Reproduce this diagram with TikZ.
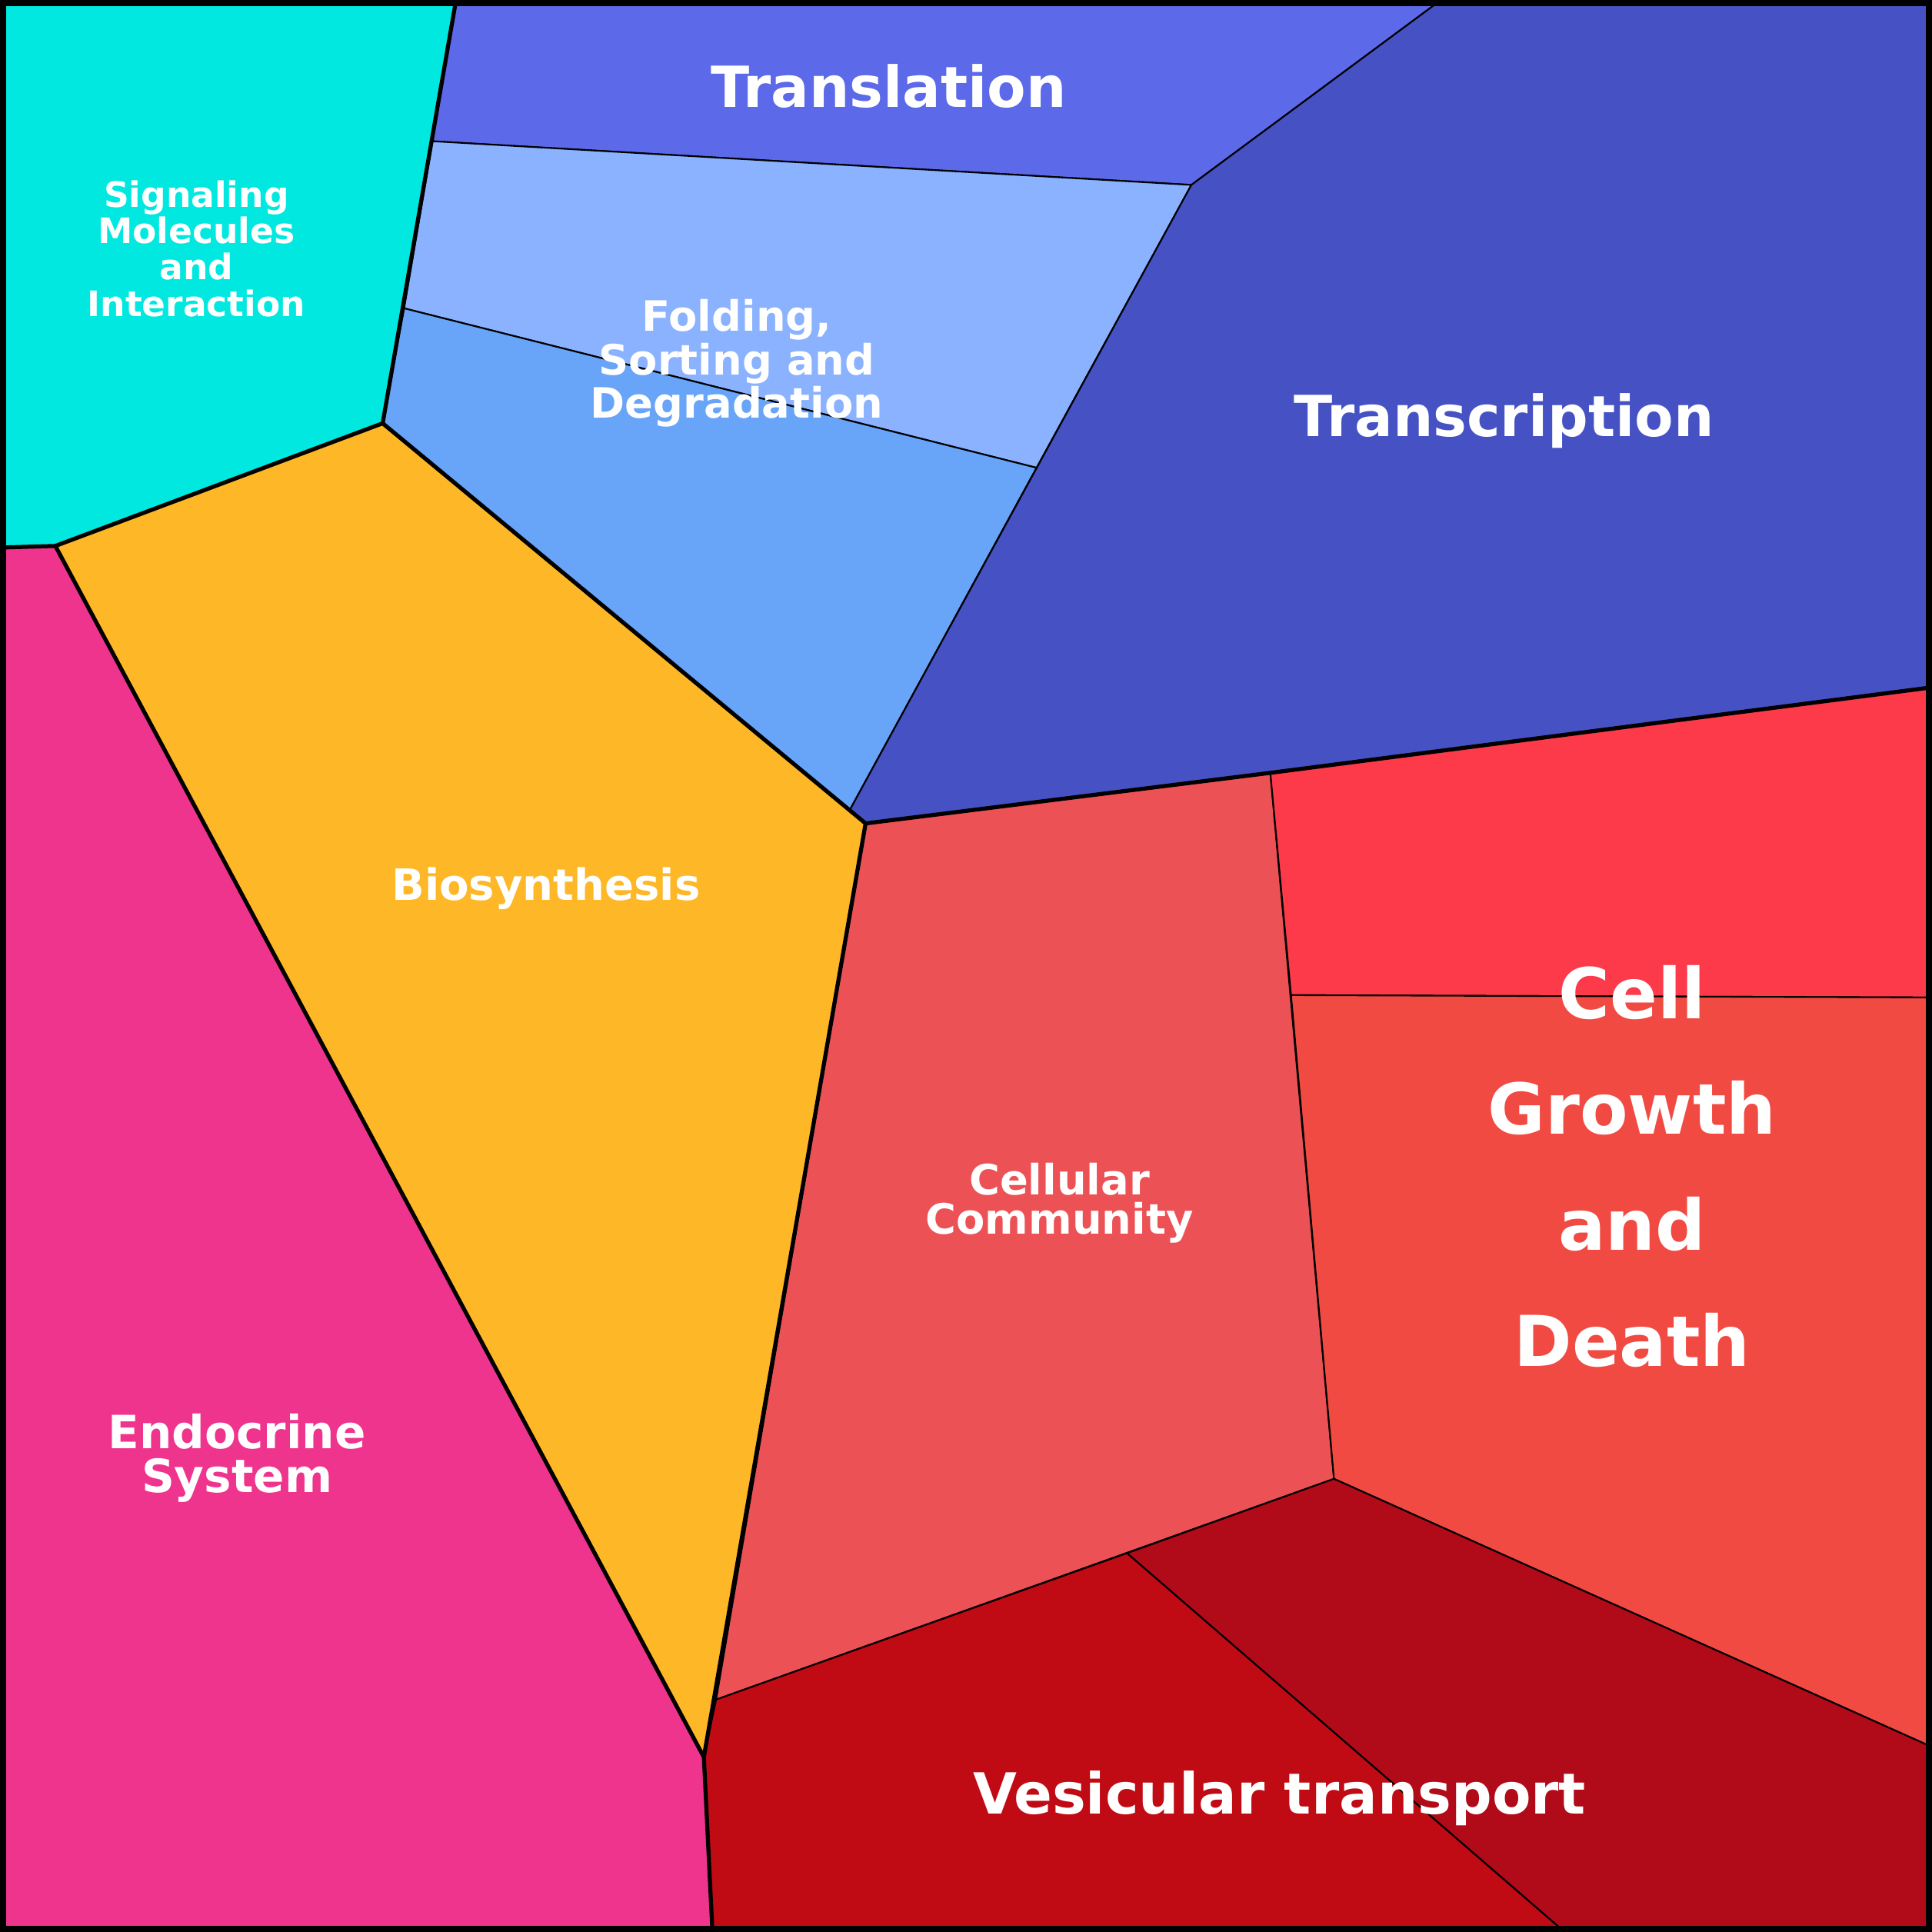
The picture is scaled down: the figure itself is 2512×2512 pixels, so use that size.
\documentclass[tikz,border=0pt]{standalone}
\usepackage{fontspec}
\setmainfont{DejaVu Sans}
\definecolor{cSignal}{HTML}{00E8E0}
\definecolor{cTransl}{HTML}{5C69E8}
\definecolor{cFoldA}{HTML}{8AB2FF}
\definecolor{cFoldB}{HTML}{68A4F8}
\definecolor{cTranscr}{HTML}{4652C4}
\definecolor{cBiosyn}{HTML}{FDB727}
\definecolor{cEndo}{HTML}{EF348E}
\definecolor{cCellCom}{HTML}{EC5255}
\definecolor{cGrowA}{HTML}{FC3A4A}
\definecolor{cGrowB}{HTML}{F14A42}
\definecolor{cVesA}{HTML}{C00A14}
\definecolor{cVesB}{HTML}{B10A19}
\tikzset{
  cell/.style={draw=black, line width=0.6pt},
  group/.style={draw=black, line width=1.5pt, line join=round},
  lbl/.style={text=white, font=\bfseries, align=center, inner sep=0pt},
}
\begin{document}
\begin{tikzpicture}[x=0.01cm,y=-0.01cm]
		% cells %
		\path[cell, fill=cSignal] (0,0) -- (590,0) -- (495,548) -- (68,708) -- (0,710) -- cycle;
		\path[cell, fill=cTransl] (590,0) -- (1870,0) -- (1550,237) -- (560,180) -- cycle;
		\path[cell, fill=cFoldA] (560,180) -- (1550,237) -- (1348,606) -- (523,398) -- cycle;
		\path[cell, fill=cFoldB] (523,398) -- (1348,606) -- (1103,1055) -- (495,548) -- cycle;
		\path[cell, fill=cTranscr] (1870,0) -- (2512,0) -- (2512,893) -- (1653,1004) -- (1125,1070) -- (1103,1055) -- (1550,237) -- cycle;
		\path[cell, fill=cBiosyn] (68,708) -- (495,548) -- (1125,1070) -- (914,2288) -- cycle;
		\path[cell, fill=cEndo] (0,710) -- (68,708) -- (914,2288) -- (925,2512) -- (0,2512) -- cycle;
		\path[cell, fill=cCellCom] (1125,1070) -- (1653,1004) -- (1736,1925) -- (930,2213) -- cycle;
		\path[cell, fill=cGrowA] (1653,1004) -- (2512,893) -- (2512,1297) -- (1680,1294) -- cycle;
		\path[cell, fill=cGrowB] (1680,1294) -- (2512,1297) -- (2512,2273) -- (1736,1925) -- cycle;
		\path[cell, fill=cVesB] (1466,2022) -- (1736,1925) -- (2512,2273) -- (2512,2512) -- (2032,2512) -- cycle;
		\path[cell, fill=cVesA] (930,2213) -- (1466,2022) -- (2032,2512) -- (925,2512) -- (914,2288) -- cycle;
		% group borders %
		\draw[group] (590,0) -- (495,548) -- (68,708) -- (0,710);
		\draw[group] (495,548) -- (1125,1070) -- (914,2288) -- (68,708);
		\draw[group] (914,2288) -- (925,2512);
		\draw[group] (1125,1070) -- (1653,1004) -- (2512,893);
		\draw[black, line width=2.4pt] (0,0) rectangle (2512,2512);
		% labels %
		\node[lbl, font=\bfseries\fontsize{13}{13.5}\selectfont] (sig) at (252,320) {Signaling\\Molecules\\and\\Interaction};
		\node[lbl, font=\bfseries\fontsize{21}{25}\selectfont] (trl) at (1155,108) {Translation};
		\node[lbl, font=\bfseries\fontsize{15.5}{14.8}\selectfont] (fold) at (957,470) {Folding,\\Sorting and\\Degradation};
		\node[lbl, font=\bfseries\fontsize{21}{25}\selectfont] (trc) at (1958,545) {Transcription};
		\node[lbl, font=\bfseries\fontsize{16}{18}\selectfont] (bio) at (708,1155) {Biosynthesis};
		\node[lbl, font=\bfseries\fontsize{15.5}{14.5}\selectfont] (com) at (1378,1565) {Cellular\\Community};
		\node[lbl, font=\bfseries\fontsize{26}{43}\selectfont] (grw) at (2125,1517) {Cell\\Growth\\and\\Death};
		\node[lbl, font=\bfseries\fontsize{17}{16.5}\selectfont] (end) at (305,1898) {Endocrine\\System};
		\node[lbl, font=\bfseries\fontsize{21}{25}\selectfont] (ves) at (1665,2342) {Vesicular transport};
\end{tikzpicture}
\end{document}
